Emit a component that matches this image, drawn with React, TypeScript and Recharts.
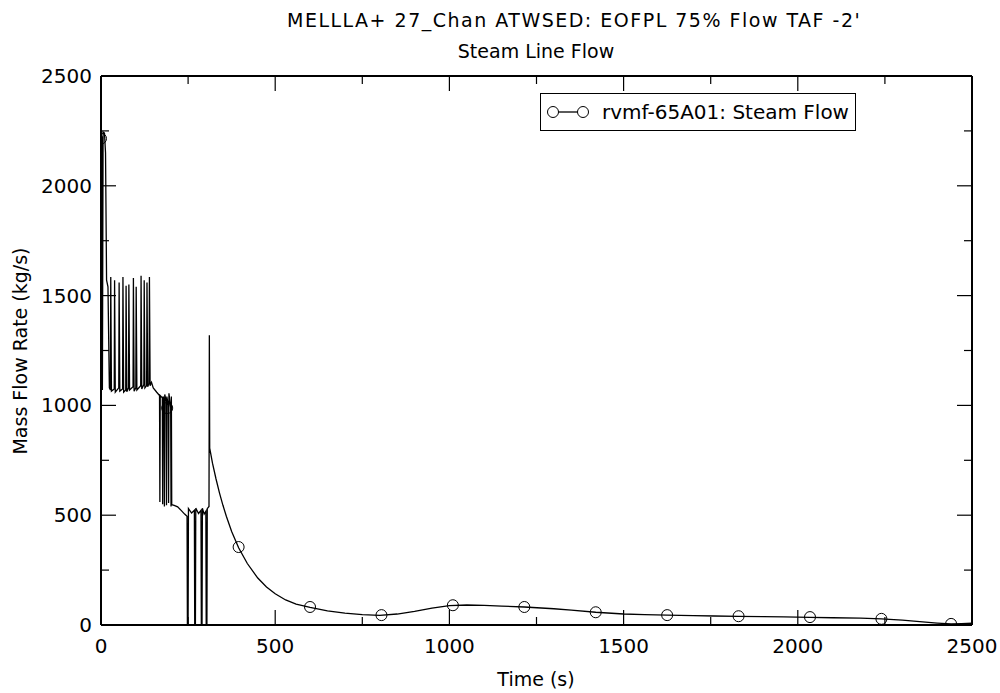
import { ComposedChart, Line, Scatter, XAxis, YAxis } from "recharts";

// rvmf-65A01 steam line flow, [time s, flow kg/s]
const steamFlow: [number, number][] = [
  [0, 2215], [3, 2225], [4, 1070], [6, 2245], [10, 2240], [13, 2150], [16, 1570], [20, 1540], [24, 1080],
  [27, 1070], [28, 1585], [30, 1065],
  [38, 1075], [39, 1570], [41, 1060],
  [51, 1080], [52, 1560], [54, 1065],
  [62, 1075], [63, 1585], [65, 1060],
  [71, 1070], [72, 1545], [74, 1062],
  [79, 1080], [80, 1550], [82, 1070],
  [92, 1085], [93, 1580], [95, 1065],
  [100, 1080], [101, 1540], [103, 1070],
  [114, 1090], [115, 1590], [117, 1075],
  [123, 1095], [124, 1570], [126, 1080],
  [131, 1090], [132, 1560], [134, 1085],
  [138, 1100], [139, 1585], [141, 1090],
  [145, 1105], [150, 1080], [160, 1060],
  [168, 1045], [169, 560], [170, 1045],
  [176, 1035], [177, 550], [178, 1040],
  [181, 1030], [182, 540], [183, 1050],
  [187, 1020], [188, 545], [189, 1040],
  [193, 1000], [194, 555], [195, 1055],
  [200, 990], [201, 540], [202, 1040], [203, 548],
  [210, 545], [220, 538], [230, 522], [240, 505], [247, 495], [248, 0], [250, 0], [251, 530],
  [260, 510], [268, 522], [269, 0], [271, 0], [272, 532],
  [280, 508], [287, 522], [288, 0], [290, 0], [291, 532],
  [296, 505], [301, 518], [302, 0], [304, 0], [305, 530], [310, 540], [311, 1320], [312, 805],
  [320, 737], [330, 666], [340, 602], [350, 545], [360, 494], [375, 426], [395, 352], [420, 280],
  [450, 214], [475, 173], [500, 142], [530, 114], [560, 95], [600, 80],
  [650, 64], [700, 54], [750, 47], [800, 44], [850, 50], [900, 62], [950, 77], [1000, 88],
  [1050, 91], [1100, 89], [1150, 86], [1215, 82], [1300, 74], [1350, 68], [1420, 58], [1500, 50],
  [1560, 47], [1625, 45], [1700, 43], [1760, 41], [1830, 39], [1900, 38], [1960, 37], [2035, 35],
  [2100, 33], [2180, 31], [2240, 28], [2300, 22], [2350, 15], [2400, 9], [2440, 5], [2470, 6], [2500, 8],
];

const markerTime = [0, 190, 395, 600, 805, 1010, 1215, 1420, 1625, 1830, 2035, 2240, 2440];
const markerFlow = [2215, 988, 355, 82, 45, 90, 82, 58, 45, 40, 36, 28, 5];

const xTicks = [0, 250, 500, 750, 1000, 1250, 1500, 1750, 2000, 2250, 2500];
const yTicks = [0, 250, 500, 750, 1000, 1250, 1500, 1750, 2000, 2250, 2500];

const titleLines = ["MELLLA+ 27_Chan ATWSED: EOFPL 75% Flow TAF -2'", "Steam Line Flow"];
const seriesName = "rvmf-65A01: Steam Flow";

const FONT = '"DejaVu Sans", sans-serif';
const major = (v: number) => v % 500 === 0;

const traceData = steamFlow.map(([t, v]) => ({ t, v }));
const markerData = markerTime.map((t, i) => ({ t, v: markerFlow[i] }));

const BottomTick = ({ x, y, payload }: any) => (
  <g>
    <line x1={x} y1={y} x2={x} y2={y - (major(payload.value) ? 15 : 8)} stroke="#000" strokeWidth={1.2} />
    {major(payload.value) && (
      <text x={x} y={y + 28} textAnchor="middle" fontSize={20} fontFamily={FONT} fill="#000">
        {payload.value}
      </text>
    )}
  </g>
);

const TopTick = ({ x, y, payload }: any) => (
  <line x1={x} y1={y} x2={x} y2={y + (major(payload.value) ? 15 : 8)} stroke="#000" strokeWidth={1.2} />
);

const LeftTick = ({ x, y, payload }: any) => (
  <g>
    <line x1={x} y1={y} x2={x + (major(payload.value) ? 15 : 8)} y2={y} stroke="#000" strokeWidth={1.2} />
    {major(payload.value) && (
      <text x={x - 9} y={y + 7} textAnchor="end" fontSize={20} fontFamily={FONT} fill="#000">
        {payload.value}
      </text>
    )}
  </g>
);

const RightTick = ({ x, y, payload }: any) => (
  <line x1={x} y1={y} x2={x - (major(payload.value) ? 15 : 8)} y2={y} stroke="#000" strokeWidth={1.2} />
);

const Marker = ({ cx, cy }: any) => <circle cx={cx} cy={cy} r={5.5} fill="none" stroke="#000" strokeWidth={1} />;

export default function App() {
  return (
    <div style={{ position: "relative", width: 1000, height: 693, fontFamily: FONT, color: "#000", background: "#fff" }}>
      <style>{"body{margin:0}"}</style>
      <ComposedChart width={1000} height={693} data={traceData} margin={{ top: 0, right: 0, bottom: 0, left: 0 }}>
        <XAxis dataKey="t" type="number" domain={[0, 2500]} ticks={xTicks} interval={0} height={68}
          tickSize={0} tickMargin={0} tick={BottomTick} axisLine={{ stroke: "#000", strokeWidth: 2 }} allowDataOverflow />
        <XAxis xAxisId="top" orientation="top" dataKey="t" type="number" domain={[0, 2500]} ticks={xTicks} interval={0}
          height={76} tickSize={0} tickMargin={0} tick={TopTick} axisLine={{ stroke: "#000", strokeWidth: 2 }} allowDataOverflow />
        <YAxis type="number" domain={[0, 2500]} ticks={yTicks} interval={0} width={101}
          tickSize={0} tickMargin={0} tick={LeftTick} axisLine={{ stroke: "#000", strokeWidth: 2 }} allowDataOverflow />
        <YAxis yAxisId="right" orientation="right" type="number" domain={[0, 2500]} ticks={yTicks} interval={0} width={28}
          tickSize={0} tickMargin={0} tick={RightTick} axisLine={{ stroke: "#000", strokeWidth: 2 }} allowDataOverflow />
        <Line type="linear" dataKey="v" stroke="#000" strokeWidth={1.3} dot={false} isAnimationActive={false} />
        <Scatter data={markerData} dataKey="v" shape={Marker} isAnimationActive={false} />
      </ComposedChart>

      <div style={{ position: "absolute", left: 287, top: 10, whiteSpace: "nowrap", fontSize: 19, lineHeight: "20px",
        letterSpacing: "1.5px" }}>
        {titleLines[0]}
      </div>
      <div style={{ position: "absolute", left: 536, top: 41, transform: "translateX(-50%)", whiteSpace: "nowrap",
        fontSize: 19, lineHeight: "20px" }}>
        {titleLines[1]}
      </div>

      <div style={{ position: "absolute", left: 536, top: 669, transform: "translateX(-50%)", whiteSpace: "nowrap",
        fontSize: 19, lineHeight: "20px" }}>
        Time (s)
      </div>
      <div style={{ position: "absolute", left: 20, top: 351, transform: "translate(-50%, -50%) rotate(-90deg)",
        whiteSpace: "nowrap", fontSize: 19, lineHeight: "20px" }}>
        Mass Flow Rate (kg/s)
      </div>

      <div style={{ position: "absolute", left: 540, top: 93, width: 316, height: 38, border: "1px solid #000",
        background: "#fff", display: "flex", alignItems: "center", boxSizing: "border-box" }}>
        <svg width={52} height={20} style={{ marginLeft: 4, marginRight: 5 }}>
          <line x1={8} y1={10} x2={38} y2={10} stroke="#000" strokeWidth={1.3} />
          <circle cx={8} cy={10} r={5.5} fill="#fff" stroke="#000" />
          <circle cx={38} cy={10} r={5.5} fill="#fff" stroke="#000" />
        </svg>
        <span style={{ fontSize: 20, whiteSpace: "nowrap" }}>{seriesName}</span>
      </div>
    </div>
  );
}
